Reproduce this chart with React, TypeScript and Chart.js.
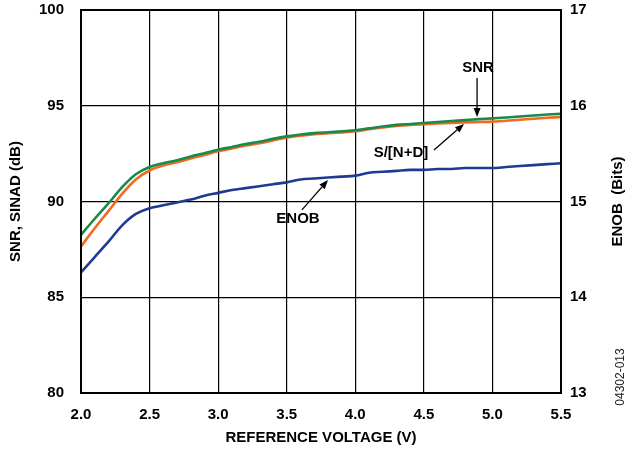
import { useEffect, useRef } from "react";
import { Chart, registerables } from "chart.js";

Chart.register(...registerables);

// Reference voltage (V)
const voltage = [
  2.0, 2.1, 2.2, 2.3, 2.4, 2.5, 2.6, 2.7, 2.8, 2.9,
  3.0, 3.1, 3.2, 3.3, 3.4, 3.5, 3.6, 3.7, 3.8, 3.9,
  4.0, 4.1, 4.2, 4.3, 4.4, 4.5, 4.6, 4.7, 4.8, 4.9,
  5.0, 5.1, 5.2, 5.3, 5.4, 5.5,
];

// SNR (dB)
const snr = [
  88.26, 89.1, 89.9, 90.75, 91.42, 91.8, 92.0, 92.15, 92.35, 92.52,
  92.7, 92.85, 93.0, 93.12, 93.27, 93.4, 93.5, 93.57, 93.62, 93.67,
  93.72, 93.82, 93.92, 94.0, 94.05, 94.1, 94.15, 94.2, 94.25, 94.3,
  94.34, 94.39, 94.44, 94.49, 94.54, 94.58,
];

// S/[N+D] (dB)
const sinad = [
  87.65, 88.6, 89.5, 90.4, 91.15, 91.62, 91.88, 92.05, 92.25, 92.43,
  92.62, 92.77, 92.92, 93.04, 93.19, 93.33, 93.43, 93.51, 93.56, 93.61,
  93.67, 93.77, 93.86, 93.94, 94.0, 94.04, 94.08, 94.1, 94.13, 94.15,
  94.17, 94.22, 94.27, 94.32, 94.37, 94.42,
];

// ENOB (Bits)
const enob = [
  14.26, 14.42, 14.58, 14.75, 14.87, 14.93, 14.96, 14.99, 15.02, 15.06,
  15.09, 15.12, 15.14, 15.16, 15.18, 15.2, 15.23, 15.24, 15.25, 15.26,
  15.27, 15.3, 15.31, 15.32, 15.33, 15.33, 15.34, 15.34, 15.35, 15.35,
  15.35, 15.36, 15.37, 15.38, 15.39, 15.4,
];

const xTickValues = [2.0, 2.5, 3.0, 3.5, 4.0, 4.5, 5.0, 5.5];
const leftTickValues = [80, 85, 90, 95, 100];
const rightTickValues = [13, 14, 15, 16, 17];

// Callout labels with arrows, in data units (x: V, y: dB on left axis)
const calloutText = ["SNR", "S/[N+D]", "ENOB"];
const calloutLabelX = [4.895, 4.333, 3.582];
const calloutLabelY = [96.97, 92.53, 89.09];
const calloutFromX = [4.888, 4.574, 3.611];
const calloutFromY = [96.45, 92.69, 89.56];
const calloutToX = [4.888, 4.793, 3.801];
const calloutToY = [94.41, 94.05, 91.12];

const FONT_FAMILY = "'Liberation Sans', Arial, Helvetica, sans-serif";
const GREEN = "#188a4a";
const ORANGE = "#f26a1e";
const BLUE = "#1f3a92";

const overlayPlugin = {
  id: "overlay",
  afterDatasetsDraw(chart: any) {
    const { ctx, chartArea: a, scales } = chart;
    const xs = scales.x;
    const ys = scales.y;
    ctx.save();
    // frame
    ctx.strokeStyle = "#000";
    ctx.lineWidth = 2;
    ctx.strokeRect(a.left, a.top, a.right - a.left, a.bottom - a.top);

    // callouts
    ctx.fillStyle = "#000";
    ctx.font = `bold 15px ${FONT_FAMILY}`;
    ctx.textAlign = "center";
    ctx.textBaseline = "middle";
    for (let i = 0; i < calloutText.length; i++) {
      const lx = xs.getPixelForValue(calloutLabelX[i]);
      const ly = ys.getPixelForValue(calloutLabelY[i]);
      ctx.fillText(calloutText[i], lx, ly);
      const fx = xs.getPixelForValue(calloutFromX[i]);
      const fy = ys.getPixelForValue(calloutFromY[i]);
      const tx = xs.getPixelForValue(calloutToX[i]);
      const ty = ys.getPixelForValue(calloutToY[i]);
      const ang = Math.atan2(ty - fy, tx - fx);
      const headLen = 9;
      const headW = 3.5;
      const bx = tx - headLen * Math.cos(ang);
      const by = ty - headLen * Math.sin(ang);
      ctx.lineWidth = 1.3;
      ctx.beginPath();
      ctx.moveTo(fx, fy);
      ctx.lineTo(bx, by);
      ctx.stroke();
      ctx.beginPath();
      ctx.moveTo(tx, ty);
      ctx.lineTo(bx + headW * Math.sin(ang), by - headW * Math.cos(ang));
      ctx.lineTo(bx - headW * Math.sin(ang), by + headW * Math.cos(ang));
      ctx.closePath();
      ctx.fill();
    }

    // right axis title (reads bottom-to-top)
    const midY = (a.top + a.bottom) / 2;
    ctx.save();
    ctx.translate(chart.width - 14, midY);
    ctx.rotate(-Math.PI / 2);
    ctx.font = `bold 15px ${FONT_FAMILY}`;
    ctx.fillText("ENOB  (Bits)", 0, 0);
    ctx.restore();

    // figure code
    ctx.save();
    ctx.translate(chart.width - 11, a.bottom - 16);
    ctx.rotate(-Math.PI / 2);
    ctx.font = `12px ${FONT_FAMILY}`;
    ctx.fillStyle = "#222";
    ctx.fillText("04302-013", 0, 0);
    ctx.restore();

    ctx.restore();
  },
};

export default function App() {
  const canvasRef = useRef<HTMLCanvasElement | null>(null);

  useEffect(() => {
    document.body.style.margin = "0";
    const canvas = canvasRef.current;
    if (!canvas) return;
    const toPts = (ys: number[]) => voltage.map((v, i) => ({ x: v, y: ys[i] }));
    const tickFont = { family: FONT_FAMILY, size: 15, weight: "bold" as const };
    const noPad = (s: any) => {
      s.paddingTop = 0;
      s.paddingBottom = 0;
      s.paddingLeft = 0;
      s.paddingRight = 0;
    };

    const chart = new Chart(canvas, {
      type: "line",
      data: {
        datasets: [
          {
            label: "SNR",
            data: toPts(snr),
            borderColor: GREEN,
            borderWidth: 2.6,
            pointRadius: 0,
            cubicInterpolationMode: "monotone",
            yAxisID: "y",
          },
          {
            label: "S/[N+D]",
            data: toPts(sinad),
            borderColor: ORANGE,
            borderWidth: 2.6,
            pointRadius: 0,
            cubicInterpolationMode: "monotone",
            yAxisID: "y",
          },
          {
            label: "ENOB",
            data: toPts(enob),
            borderColor: BLUE,
            borderWidth: 2.6,
            pointRadius: 0,
            cubicInterpolationMode: "monotone",
            yAxisID: "y1",
          },
        ],
      },
      options: {
        responsive: false,
        animation: false,
        layout: { padding: { top: 10, left: 0, right: 0, bottom: 0 } },
        plugins: {
          legend: { display: false },
          tooltip: { enabled: false },
        },
        scales: {
          x: {
            type: "linear",
            min: 2.0,
            max: 5.5,
            afterBuildTicks: (s: any) => {
              s.ticks = xTickValues.map((v) => ({ value: v }));
            },
            ticks: {
              font: tickFont,
              color: "#000",
              padding: 13,
              maxRotation: 0,
              callback: (v: any) => Number(v).toFixed(1),
            },
            grid: { color: "#000", lineWidth: 1.2, drawTicks: false },
            border: { display: false },
            title: {
              display: true,
              text: "REFERENCE VOLTAGE (V)",
              font: tickFont,
              color: "#000",
              padding: { top: 0, bottom: 7 },
            },
            afterFit: (s: any) => {
              s.height = 61;
              noPad(s);
            },
          },
          y: {
            type: "linear",
            position: "left",
            min: 80,
            max: 100,
            afterBuildTicks: (s: any) => {
              s.ticks = leftTickValues.map((v) => ({ value: v }));
            },
            ticks: { font: tickFont, color: "#000", padding: 17 },
            grid: { color: "#000", lineWidth: 1.2, drawTicks: false },
            border: { display: false },
            title: {
              display: true,
              text: "SNR, SINAD (dB)",
              font: tickFont,
              color: "#000",
              padding: { top: 7, bottom: 0 },
            },
            afterFit: (s: any) => {
              s.width = 81;
              noPad(s);
            },
          },
          y1: {
            type: "linear",
            position: "right",
            min: 13,
            max: 17,
            afterBuildTicks: (s: any) => {
              s.ticks = rightTickValues.map((v) => ({ value: v }));
            },
            ticks: { font: tickFont, color: "#000", padding: 9 },
            grid: { display: false, drawTicks: false },
            border: { display: false },
            afterFit: (s: any) => {
              s.width = 71;
              noPad(s);
            },
          },
        },
      },
      plugins: [overlayPlugin],
    });

    return () => chart.destroy();
  }, []);

  return (
    <div style={{ width: 632, height: 454 }}>
      <canvas ref={canvasRef} width={632} height={454} style={{ display: "block" }} />
    </div>
  );
}
